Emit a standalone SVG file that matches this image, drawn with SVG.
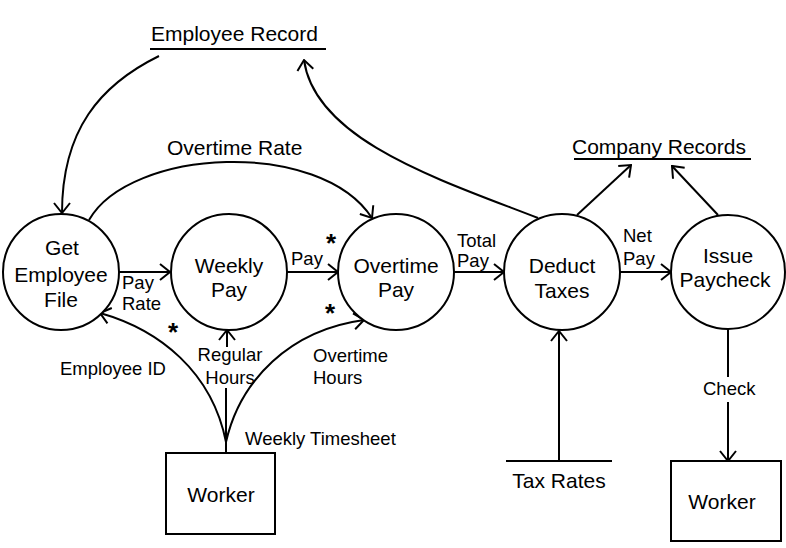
<svg xmlns="http://www.w3.org/2000/svg" width="786" height="548" viewBox="0 0 786 548">
<defs>
<marker id="arr" viewBox="0 0 12 18" refX="11" refY="9" markerWidth="12" markerHeight="18" markerUnits="userSpaceOnUse" orient="auto">
<path d="M1,1 L11,9 L1,17" fill="none" stroke="#000" stroke-width="2"/>
</marker>
<style>
.n{fill:#fff;stroke:#000;stroke-width:2}
.t{font-family:"Liberation Sans",Arial,sans-serif;font-size:21px;fill:#000}
.c{text-anchor:middle}
.l{font-family:"Liberation Sans",Arial,sans-serif;font-size:18.5px;fill:#000}
.s{font-family:"Liberation Sans",Arial,sans-serif;font-size:26px;font-weight:bold;fill:#000}
.e{fill:none;stroke:#000;stroke-width:2}
.a{fill:none;stroke:#000;stroke-width:2;marker-end:url(#arr)}
</style>
</defs>
<rect width="786" height="548" fill="#fff"/>

<g id="connectors">
<path class="a" d="M159,56 C100,85 62,130 62,213"/>
<path class="a" d="M538,218 C440,180 315,140 304,60"/>
<path class="a" d="M89,220 C130,148 320,138 372,218"/>
<line class="a" x1="119" y1="272" x2="170" y2="272"/>
<line class="a" x1="287" y1="272" x2="338" y2="272"/>
<line class="a" x1="454" y1="272" x2="504" y2="272"/>
<line class="a" x1="620" y1="272" x2="671" y2="272"/>
<line class="a" x1="577" y1="215" x2="631" y2="165"/>
<line class="a" x1="718" y1="215" x2="672" y2="166"/>
<line class="e" x1="226" y1="453" x2="226" y2="388"/>
<line class="a" x1="227" y1="347" x2="227" y2="330"/>
<path class="a" d="M226,442 C212,372 160,330 100,313"/>
<path class="a" d="M226,442 C240,380 290,330 364,320"/>
<line class="a" x1="559" y1="461" x2="559" y2="331"/>
<line class="e" x1="728" y1="329" x2="728" y2="377"/>
<line class="a" x1="728" y1="402" x2="728" y2="461"/>
</g>

<g id="employee-record">
<text class="t" x="151" y="41">Employee Record</text>
<line class="e" x1="150" y1="49" x2="326" y2="49"/>
</g>
<g id="company-records">
<text class="t" x="572" y="154">Company Records</text>
<line class="e" x1="574" y1="159" x2="751" y2="159"/>
</g>
<g id="tax-rates">
<line class="e" x1="506" y1="461" x2="612" y2="461"/>
<text class="t c" x="559" y="488">Tax Rates</text>
</g>

<g id="get-employee-file">
<circle class="n" cx="61" cy="272" r="58"/>
<text class="t c" x="62" y="255">Get</text>
<text class="t c" x="61" y="282">Employee</text>
<text class="t c" x="61" y="307">File</text>
</g>
<g id="weekly-pay">
<circle class="n" cx="229" cy="272" r="58"/>
<text class="t c" x="229" y="273">Weekly</text>
<text class="t c" x="229" y="297">Pay</text>
</g>
<g id="overtime-pay">
<circle class="n" cx="396" cy="272" r="58"/>
<text class="t c" x="396" y="273">Overtime</text>
<text class="t c" x="396" y="297">Pay</text>
</g>
<g id="deduct-taxes">
<circle class="n" cx="562" cy="272" r="58"/>
<text class="t c" x="562" y="273">Deduct</text>
<text class="t c" x="562" y="298">Taxes</text>
</g>
<g id="issue-paycheck">
<circle class="n" cx="728" cy="272" r="57"/>
<text class="t c" x="728" y="263">Issue</text>
<text class="t c" x="725" y="287">Paycheck</text>
</g>
<g id="worker-1">
<rect class="n" x="166" y="453" width="109" height="81"/>
<text class="t c" x="221" y="502">Worker</text>
</g>
<g id="worker-2">
<rect class="n" x="671" y="461" width="110" height="80"/>
<text class="t c" x="722" y="509">Worker</text>
</g>

<g id="labels">
<text class="t" x="167" y="155">Overtime Rate</text>
<text class="l" x="122" y="289">Pay</text>
<text class="l" x="122" y="310">Rate</text>
<text class="l" x="291" y="265">Pay</text>
<text class="l" x="457" y="247">Total</text>
<text class="l" x="457" y="267">Pay</text>
<text class="l" x="623" y="242">Net</text>
<text class="l" x="623" y="265">Pay</text>
<text class="l" x="60" y="375">Employee ID</text>
<text class="l c" x="230" y="361">Regular</text>
<text class="l c" x="230" y="384">Hours</text>
<text class="l" x="313" y="362">Overtime</text>
<text class="l" x="313" y="384">Hours</text>
<text class="l" x="245" y="445">Weekly Timesheet</text>
<text class="l" x="703" y="395">Check</text>
<text class="s" x="168" y="341">*</text>
<text class="s" x="326" y="252">*</text>
<text class="s" x="325" y="322">*</text>
</g>
</svg>
